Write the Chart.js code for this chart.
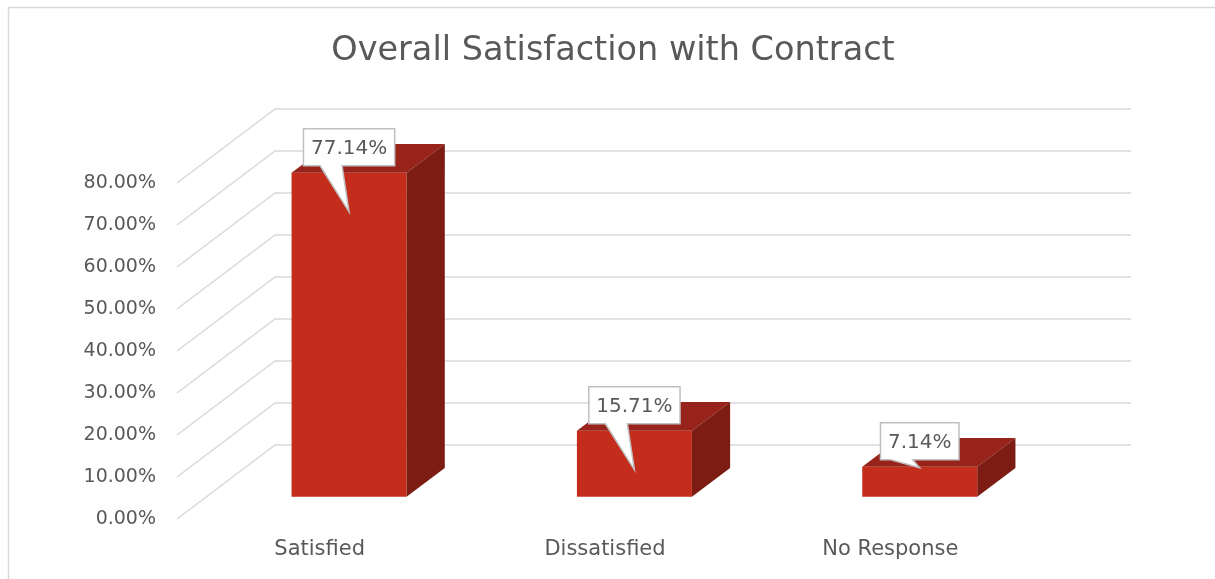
<!DOCTYPE html>
<html><head><meta charset="utf-8">
<script src="https://cdn.jsdelivr.net/npm/chart.js@4"></script>
<style>html,body{margin:0;padding:0;background:#fff}#wrap{width:1215px;height:579px;position:relative}</style>
</head><body><div id="wrap"><canvas id="c"></canvas></div>
<script>
// ---- data ----
const categories = ['Satisfied', 'Dissatisfied', 'No Response'];
const satisfactionPct = [77.14, 15.71, 7.14];
const yTickMin = 0;
const yTickMax = 80;
const yTickStep = 10;
const chartTitle = 'Overall Satisfaction with Contract';

// ---- style ----
const FONT = '"DejaVu Sans", sans-serif';
const TEXT = '#595959';
const GRID = '#d9d9d9';
const FRONT = '#c42d1c';
const TOP = '#97231a';
const SIDE = '#7d1c12';
const DEPTH_DX = 98, DEPTH_DY = 74;   // oblique projection of the full floor depth
const BAR_FRONT = 0.3, BAR_DEPTH = 0.39;

const fmt = v => v.toFixed(2) + '%';

const pseudo3d = {
  id: 'pseudo3d',
  beforeDraw(chart) {
    const ctx = chart.ctx;
    ctx.save();
    ctx.fillStyle = '#fff';
    ctx.fillRect(0, 0, chart.width, chart.height);
    ctx.strokeStyle = GRID;
    ctx.lineWidth = 1.5;
    ctx.beginPath();
    ctx.moveTo(8.5, chart.height + 2);
    ctx.lineTo(8.5, 7.5);
    ctx.lineTo(chart.width + 2, 7.5);
    ctx.stroke();
    ctx.restore();
  },
  beforeDatasetsDraw(chart) {
    const ctx = chart.ctx, a = chart.chartArea, ys = chart.scales.y;
    ctx.save();
    ctx.strokeStyle = GRID;
    ctx.lineWidth = 1.5;
    ys.ticks.forEach(t => {
      const y = ys.getPixelForValue(t.value);
      ctx.beginPath();
      ctx.moveTo(a.left, y);
      ctx.lineTo(a.left + DEPTH_DX, y - DEPTH_DY);
      ctx.lineTo(a.right + DEPTH_DX, y - DEPTH_DY);
      ctx.stroke();
    });
    ctx.restore();
    ctx.save();
    ctx.translate(DEPTH_DX * BAR_FRONT, -DEPTH_DY * BAR_FRONT);
  },
  afterDatasetsDraw(chart) {
    const ctx = chart.ctx;
    const dx = DEPTH_DX * BAR_DEPTH, dy = DEPTH_DY * BAR_DEPTH;
    const meta = chart.getDatasetMeta(0);
    meta.data.forEach((bar, i) => {
      const L = bar.x - bar.width / 2, R = bar.x + bar.width / 2, T = bar.y, B = bar.base;
      ctx.fillStyle = TOP;
      ctx.beginPath();
      ctx.moveTo(L, T); ctx.lineTo(R, T); ctx.lineTo(R + dx, T - dy); ctx.lineTo(L + dx, T - dy);
      ctx.closePath(); ctx.fill();
      ctx.fillStyle = SIDE;
      ctx.beginPath();
      ctx.moveTo(R, T); ctx.lineTo(R + dx, T - dy); ctx.lineTo(R + dx, B - dy); ctx.lineTo(R, B);
      ctx.closePath(); ctx.fill();
    });
    // callout labels
    ctx.font = '20px ' + FONT;
    meta.data.forEach((bar, i) => {
      const txt = satisfactionPct[i].toFixed(2) + '%';
      const w = ctx.measureText(txt).width + 15;
      const h = 37;
      const cx = bar.x, T = bar.y, B = bar.base;
      const bottom = T - 7, top = bottom - h, left = cx - w / 2, right = cx + w / 2;
      const tipY = (B - T) > 40 ? T + 39 : T + 1;
      ctx.beginPath();
      ctx.moveTo(left, top); ctx.lineTo(right, top); ctx.lineTo(right, bottom);
      ctx.lineTo(cx - 7, bottom); ctx.lineTo(cx, tipY); ctx.lineTo(cx - 29, bottom);
      ctx.lineTo(left, bottom); ctx.closePath();
      ctx.fillStyle = '#fff'; ctx.fill();
      ctx.strokeStyle = '#bfbfbf'; ctx.lineWidth = 1.5; ctx.stroke();
      ctx.fillStyle = TEXT;
      ctx.textAlign = 'center'; ctx.textBaseline = 'middle';
      ctx.fillText(txt, cx, (top + bottom) / 2 + 1);
    });
    ctx.restore();
  }
};

new Chart(document.getElementById('c'), {
  type: 'bar',
  data: {
    labels: categories,
    datasets: [{
      data: satisfactionPct,
      backgroundColor: FRONT,
      borderWidth: 0,
      categoryPercentage: 1,
      barPercentage: 0.403,
      clip: false
    }]
  },
  options: {
    responsive: true,
    maintainAspectRatio: false,
    animation: false,
    events: [],
    layout: { padding: { left: 11, right: 0, top: 0, bottom: 0 } },
    plugins: {
      legend: { display: false },
      tooltip: { enabled: false },
      title: {
        display: true,
        text: chartTitle,
        color: TEXT,
        font: { family: FONT, size: 33.5, weight: 'normal' },
        padding: { top: 31, bottom: 111.8 }
      }
    },
    scales: {
      x: {
        grid: { display: false, drawTicks: false },
        border: { display: false },
        ticks: { color: TEXT, font: { family: FONT, size: 21 }, padding: 18, maxRotation: 0 },
        afterFit(s) { s.height = 60; }
      },
      y: {
        min: yTickMin, max: yTickMax,
        grid: { display: false, drawTicks: false },
        border: { display: false },
        ticks: { stepSize: yTickStep, color: TEXT, font: { family: FONT, size: 19 }, padding: 21, callback: v => fmt(v) },
        afterFit(s) { s.width = 166; }
      },
      yRight: {
        position: 'right',
        min: yTickMin, max: yTickMax,
        grid: { display: false, drawTicks: false },
        border: { display: false },
        ticks: { display: false },
        afterFit(s) { s.width = 182; }
      }
    }
  },
  plugins: [pseudo3d]
});
</script>
</body></html>
